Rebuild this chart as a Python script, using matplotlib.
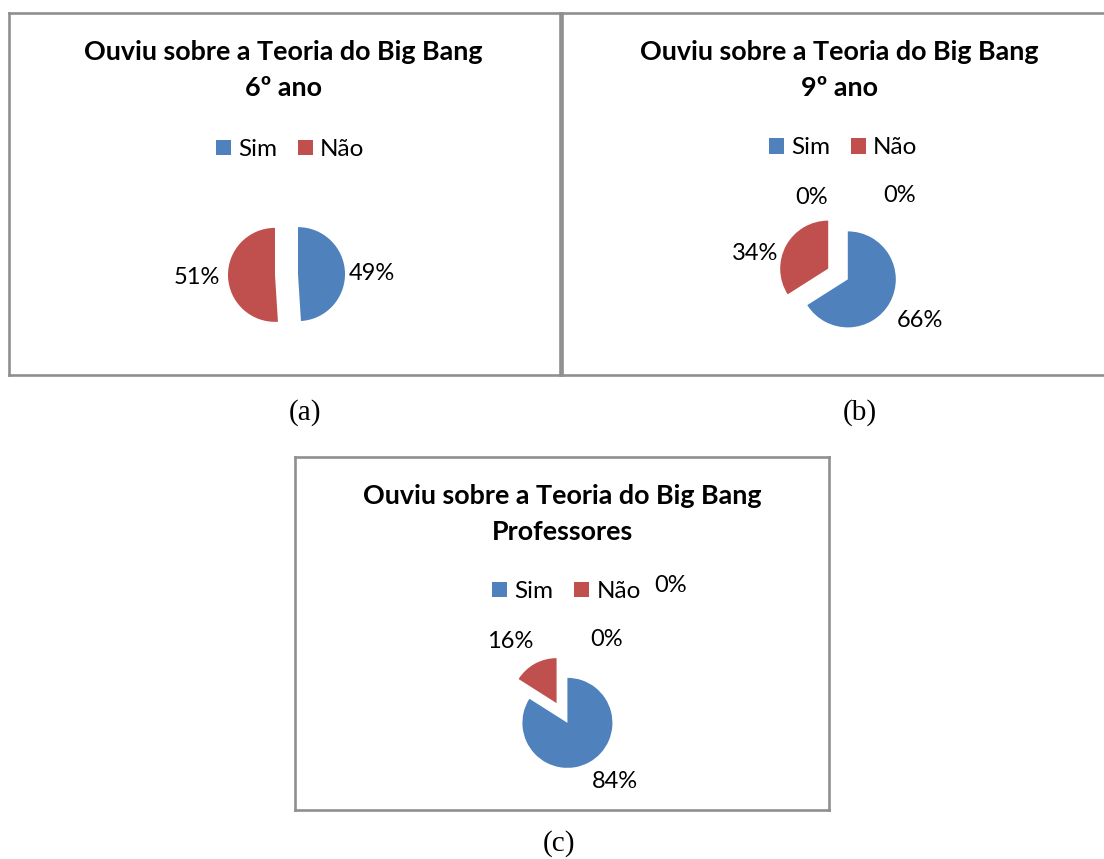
import matplotlib
matplotlib.use("Agg")
import matplotlib.pyplot as plt

W, H = 1104, 859

categorias = ["Sim", "Não"]
cores = ["#4F81BD", "#C0504D", "#9BBB59", "#8064A2"]

titulo = "Ouviu sobre a Teoria do Big Bang"
grupos = ["6º ano", "9º ano", "Professores"]
legendas = ["(a)", "(b)", "(c)"]

# porcentagens por grupo (Sim, Não, e as linhas vazias da planilha)
valores_6ano = [49, 51]
valores_9ano = [66, 34, 0, 0]
valores_prof = [84, 16, 0, 0]

# caixas em pixels: x0, y0, x1, y1
caixas = [(8.5, 13, 560, 375), (562, 13, 1110, 375), (295, 457, 829, 810)]
centros = [(286.5, 274.5), (838, 274), (562, 713)]
raios = [47, 48, 45]
# deslocamento das fatias, em fração do raio
explosao = [0.245, 0.233, 0.25]
# x central e linha de base da primeira linha do título
titulo_pos = [(283.5, 60), (839.5, 60), (562, 504)]
legenda_pos = [(290, 149.5), (843, 148), (566.5, 591.5)]
rotulo_pos = [
    [(372, 274), (196.5, 277)],
    [(920, 320.5), (755, 253), (811.5, 197), (899.5, 196)],
    [(615, 781), (510, 641), (606.5, 639), (671, 585.5)],
]
legenda_txt = [(305.5, 413), (860, 413), (559, 844)]

FONTE = "Lato"

fig = plt.figure(figsize=(W / 100, H / 100), dpi=100)
fig.patch.set_facecolor("white")


def painel(i, valores):
    x0, y0, x1, y1 = caixas[i]
    ax = fig.add_axes([x0 / W, 1 - y1 / H, (x1 - x0) / W, (y1 - y0) / H])
    cx, cy = centros[i]
    r = raios[i]
    wedges, _ = ax.pie(valores, colors=cores[:len(valores)], startangle=90,
                       counterclock=False, radius=r,
                       center=(cx, H - cy), explode=[explosao[i] * r] * len(valores),
                       wedgeprops=dict(linewidth=0), frame=True)
    ax.set_xlim(x0, x1)
    ax.set_ylim(H - y1, H - y0)
    ax.set_xticks([])
    ax.set_yticks([])
    for s in ax.spines.values():
        s.set_color("#8f8f8f")
        s.set_linewidth(1.9)

    tx, ty = titulo_pos[i]
    ax.text(tx, H - ty, titulo, ha="center", va="baseline", fontsize=19.4,
            fontweight="bold", family=FONTE)
    ax.text(tx, H - ty - 35.5, grupos[i], ha="center", va="baseline",
            fontsize=19.4, fontweight="bold", family=FONTE)

    lx, ly = legenda_pos[i]
    ax.legend(wedges[:2], categorias, ncol=2, loc="center",
              bbox_to_anchor=(lx, H - ly), bbox_transform=ax.transData,
              frameon=False, handlelength=0.62, handleheight=0.62,
              handletextpad=0.3, columnspacing=0.85,
              prop=dict(family=FONTE, size=17.5))

    for v, (px, py) in zip(valores, rotulo_pos[i]):
        ax.text(px, H - py, f"{v}%", ha="center", va="center",
                fontsize=17, family=FONTE)

    fx, fy = legenda_txt[i]
    fig.text(fx / W, 1 - fy / H, legendas[i], ha="center", va="center",
             fontsize=21, family="Liberation Serif")


painel(0, valores_6ano)
painel(1, valores_9ano)
painel(2, valores_prof)

fig.savefig("out.png", dpi=100, facecolor="white")
